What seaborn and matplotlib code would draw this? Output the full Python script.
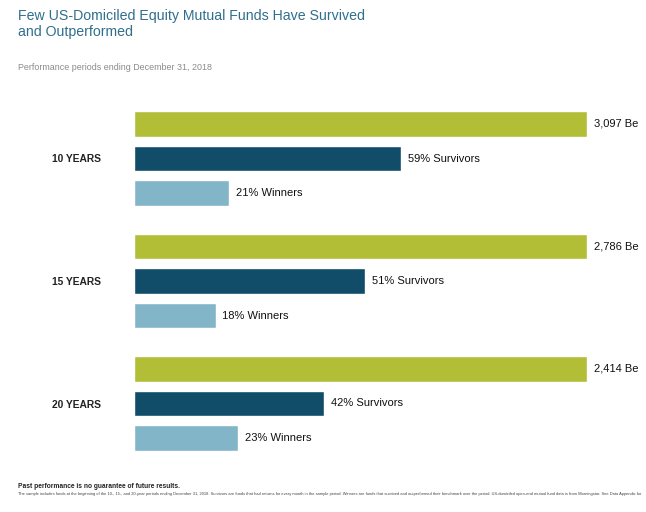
import numpy as np
import pandas as pd
import matplotlib
matplotlib.use("Agg")
import matplotlib.pyplot as plt
import seaborn as sns

# ── data ──────────────────────────────────────────────────────────────
periods = ["10 YEARS", "15 YEARS", "20 YEARS"]
beginning_funds = [3097, 2786, 2414]
survivors_pct = [59, 51, 42]
winners_pct = [21, 18, 23]
series = ["Beginning", "Survivors", "Winners"]
colors = ["#b2bf36", "#114c69", "#83b5c9"]

rows = []
for i, p in enumerate(periods):
    rows.append((p, "Beginning", 100, f"{beginning_funds[i]:,} Be"))
    rows.append((p, "Survivors", survivors_pct[i], f"{survivors_pct[i]}% Survivors"))
    rows.append((p, "Winners", winners_pct[i], f"{winners_pct[i]}% Winners"))
df = pd.DataFrame(rows, columns=["period", "series", "value", "label"])

# ── figure ────────────────────────────────────────────────────────────
sns.set_style("white")
plt.rcParams["font.family"] = ["Liberation Sans", "DejaVu Sans"]

fig = plt.figure(figsize=(6.46, 5.12), dpi=100)
ax = fig.add_axes([134 / 646, 1 - 464.75 / 512, 453 / 646, 367.5 / 512])

sns.barplot(data=df, x="value", y="period", hue="series", hue_order=series,
            palette=colors, orient="h", width=0.845, gap=0.25,
            legend=False, ax=ax, saturation=1)

ax.set_xlim(0, 100)
ax.set_ylim(2.5, -0.5)
ax.set_xlabel("")
ax.set_ylabel("")
ax.set_xticks([])
ax.tick_params(axis="y", length=0, pad=24)
for t in ax.get_yticklabels():
    t.set_fontweight("bold")
    t.set_fontsize(7.4)
    t.set_color("#222222")
sns.despine(ax=ax, left=True, bottom=True)

for cont, s in zip(ax.containers, series):
    labs = df[df["series"] == s]["label"].tolist()
    ax.bar_label(cont, labels=labs, padding=5, fontsize=8, color="#111111",
                 clip_on=False)

# ── titles & notes ────────────────────────────────────────────────────
fig.text(18 / 646, 1 - 9 / 512,
         "Few US-Domiciled Equity Mutual Funds Have Survived\nand Outperformed",
         ha="left", va="top", fontsize=10.2, color="#2f6f8d", linespacing=1.2)
fig.text(18 / 646, 1 - 67 / 512, "Performance periods ending December 31, 2018",
         ha="left", va="center", fontsize=6.4, color="#8a8a8a")
fig.text(18 / 646, 1 - 487 / 512, "Past performance is no guarantee of future results.",
         ha="left", va="center", fontsize=4.8, fontweight="bold", color="#222222")
fig.text(18 / 646, 1 - 494 / 512,
         "The sample includes funds at the beginning of the 10-, 15-, and 20-year periods ending "
         "December 31, 2018. Survivors are funds that had returns for every month in the sample "
         "period. Winners are funds that survived and outperformed their benchmark over the period. "
         "US-domiciled open-end mutual fund data is from Morningstar. See Data Appendix for",
         ha="left", va="center", fontsize=2.9, color="#444444")

fig.savefig("out.png", dpi=100)
